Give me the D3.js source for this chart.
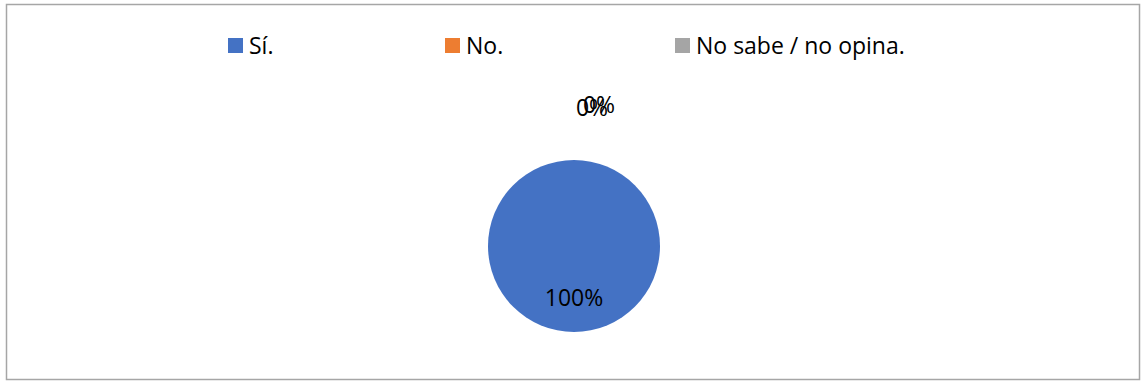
<!DOCTYPE html>
<html>
<head>
<meta charset="utf-8">
<script src="https://cdn.jsdelivr.net/npm/d3@7"></script>
<style>
  body { margin: 0; background: #fff; }
  text { font-family: 'Open Sans', Lato, sans-serif; fill: #000; }
</style>
</head>
<body>
<div class="chart"></div>
<script>
'use strict'

const categories = [ 'Sí.', 'No.', 'No sabe / no opina.' ]
const values = [ 100, 0, 0 ]
const colors = [ '#4472c4', '#ed7d31', '#a5a5a5' ]

const width = 1141
const height = 381
const cx = 574
const cy = 246
const radius = 86

const svg = d3.select('.chart').append('svg')
    .attr('width', width)
    .attr('height', height)

// chart frame
svg.append('rect')
    .attr('x', 6.5)
    .attr('y', 4.5)
    .attr('width', 1133)
    .attr('height', 375)
    .style('fill', 'none')
    .style('stroke', '#a6a6a6')
    .style('stroke-width', 1.5)

const data = categories.map((name, i) => ({ name, value: values[i], color: colors[i] }))

const pie = d3.pie()
    .sort(null)
    .value(d => d.value)
const arcs = pie(data)
const total = d3.sum(values)

const arc = d3.arc().innerRadius(0).outerRadius(radius)
const inner = d3.arc().innerRadius(radius * 0.6).outerRadius(radius * 0.6)
const outer = d3.arc().innerRadius(radius * 1.6).outerRadius(radius * 1.6)

const g = svg.append('g')
    .attr('transform', 'translate(' + cx + ',' + cy + ')')

g.selectAll('path')
    .data(arcs)
  .enter().append('path')
    .attr('d', arc)
    .style('fill', d => d.data.color)

// data labels: big slices inside, empty ones stacked outside the top
g.selectAll('.label')
    .data(arcs)
  .enter().append('text')
    .attr('class', 'label')
    .attr('transform', function(d, i) {
      const p = d.value > 0 ? inner.centroid(d) : outer.centroid(d)
      const dx = d.value > 0 ? 0 : (i - 1) * 7 + 18
      const dy = d.value > 0 ? 0 : -(i - 1) * 3
      return 'translate(' + (p[0] + dx) + ',' + (p[1] + dy) + ')'
    })
    .attr('dy', '0.35em')
    .style('text-anchor', 'middle')
    .style('font-size', '23px')
    .text(d => Math.round(d.value / total * 100) + '%')

// legend
const legendX = d3.scalePoint()
    .domain(categories)
    .range([ 228, 675 ])

const item = svg.selectAll('.legend')
    .data(data)
  .enter().append('g')
    .attr('class', 'legend')
    .attr('transform', function(d, i) {
      const x = i === 1 ? 445 : legendX(d.name)
      return 'translate(' + x + ',38)'
    })

item.append('rect')
    .attr('width', 15)
    .attr('height', 15)
    .style('fill', d => d.color)

item.append('text')
    .attr('x', 21)
    .attr('y', 16)
    .style('font-size', '23px')
    .text(d => d.name)
</script>
</body>
</html>
